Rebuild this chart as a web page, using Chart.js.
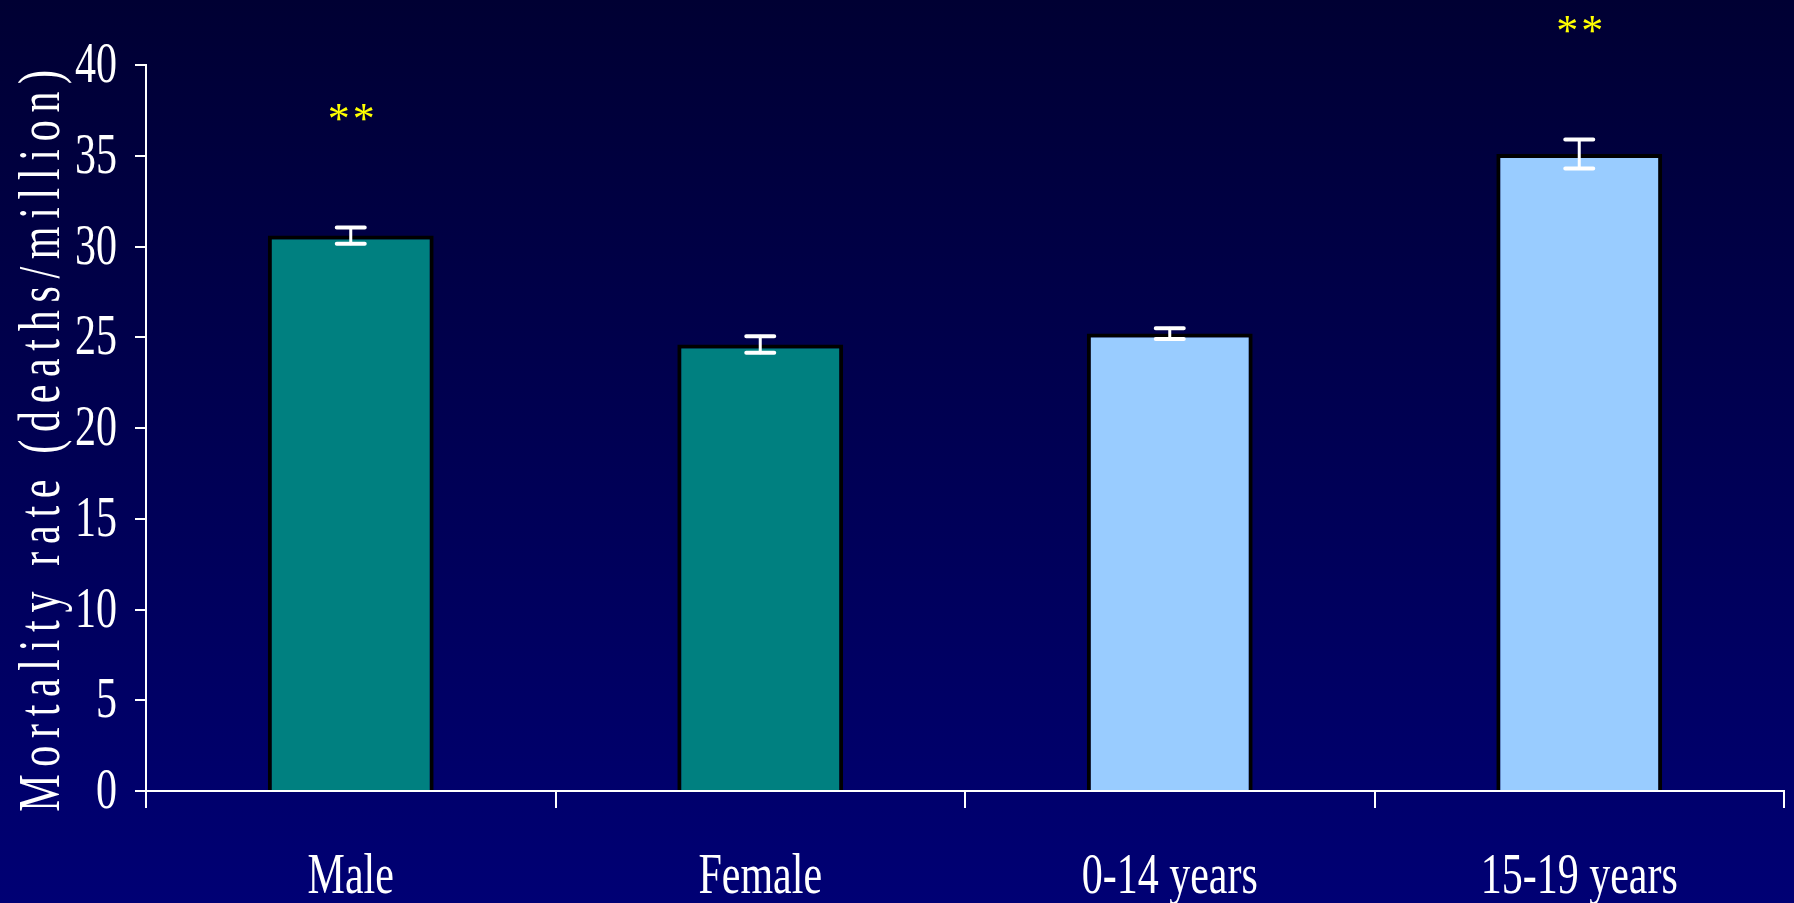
<!DOCTYPE html>
<html>
<head>
<meta charset="utf-8">
<script src="https://cdn.jsdelivr.net/npm/chart.js@4/dist/chart.umd.min.js"></script>
<style>
  html, body { margin: 0; padding: 0; background: #000050; }
  canvas { display: block; }
</style>
</head>
<body>
<canvas id="c" width="1794" height="903"></canvas>
<script>
// Mortality rate by sex and age group, with error margins
const categories = ['Male', 'Female', '0-14 years', '15-19 years'];
const mortalityRate = [30.6, 24.6, 25.2, 35.1];
const errorMargin = [0.45, 0.45, 0.3, 0.8];
const significance = ['**', '', '', '**'];
const barColors = ['#008080', '#008080', '#99CCFF', '#99CCFF'];
const yAxisTitle = 'Mortality rate (deaths/million)';
const yMin = 0, yMax = 40, yStep = 5;

const SERIF = '"Liberation Serif", "Times New Roman", serif';

// Draws text squeezed horizontally to mimic a narrow Times face
function narrowText(ctx, text, x, y, sx, align) {
  ctx.save();
  ctx.translate(x, y);
  ctx.scale(sx, 1);
  ctx.textAlign = align;
  ctx.textBaseline = 'alphabetic';
  ctx.fillText(text, 0, 0);
  ctx.restore();
}

const backdrop = {
  id: 'backdrop',
  beforeDraw(chart) {
    const { ctx, width, height } = chart;
    const g = ctx.createLinearGradient(0, 0, 0, height);
    g.addColorStop(0, '#000033');
    g.addColorStop(1, '#000074');
    ctx.save();
    ctx.fillStyle = g;
    ctx.fillRect(0, 0, width, height);
    ctx.restore();
  }
};

const errorBars = {
  id: 'errorBars',
  afterDatasetsDraw(chart) {
    const { ctx, scales: { y } } = chart;
    const meta = chart.getDatasetMeta(0);
    ctx.save();
    ctx.strokeStyle = '#ffffff';
    ctx.lineCap = 'round';
    meta.data.forEach((bar, i) => {
      const v = mortalityRate[i], e = errorMargin[i];
      const yTop = y.getPixelForValue(v + e);
      const yBot = y.getPixelForValue(v - e);
      const half = 14;
      ctx.lineWidth = 3;
      ctx.beginPath();
      ctx.moveTo(bar.x, yTop);
      ctx.lineTo(bar.x, yBot);
      ctx.stroke();
      ctx.lineWidth = 4;
      ctx.beginPath();
      ctx.moveTo(bar.x - half, yTop);
      ctx.lineTo(bar.x + half, yTop);
      ctx.moveTo(bar.x - half, yBot);
      ctx.lineTo(bar.x + half, yBot);
      ctx.stroke();

      if (significance[i]) {
        ctx.save();
        ctx.fillStyle = '#FFFF00';
        ctx.font = '44px ' + SERIF;
        ctx.letterSpacing = '3px';
        ctx.textAlign = 'center';
        ctx.textBaseline = 'middle';
        ctx.fillText(significance[i], bar.x + 2, yTop - 106);
        ctx.restore();
      }
    });
    ctx.restore();
  }
};

const axisText = {
  id: 'axisText',
  afterDraw(chart) {
    const { ctx, chartArea, scales: { x, y } } = chart;
    ctx.save();
    ctx.fillStyle = '#ffffff';
    ctx.font = '56px ' + SERIF;
    y.ticks.forEach((t, i) => {
      narrowText(ctx, String(t.value), chartArea.left - 29, y.getPixelForTick(i) + 17, 0.75, 'right');
    });
    x.ticks.forEach((t, i) => {
      narrowText(ctx, categories[i], x.getPixelForTick(i), chartArea.bottom + 102, 0.75, 'center');
    });

    // rotated y-axis title with wide letter spacing
    ctx.save();
    ctx.font = '60px ' + SERIF;
    ctx.translate(59, (chartArea.top + chartArea.bottom) / 2 + 9);
    ctx.rotate(-Math.PI / 2);
    ctx.scale(0.7, 1);
    ctx.letterSpacing = '11px';
    ctx.textAlign = 'center';
    ctx.textBaseline = 'alphabetic';
    ctx.fillText(yAxisTitle, 0, 0);
    ctx.restore();
    ctx.restore();
  }
};

new Chart(document.getElementById('c'), {
  type: 'bar',
  data: {
    labels: categories,
    datasets: [{
      data: mortalityRate,
      backgroundColor: barColors,
      borderColor: '#000000',
      borderWidth: 4,
      borderSkipped: 'start',
      categoryPercentage: 1,
      barPercentage: 0.405
    }]
  },
  options: {
    responsive: false,
    devicePixelRatio: 1,
    animation: false,
    layout: { padding: { top: 65, right: 10, left: 0, bottom: 0 } },
    plugins: { legend: { display: false }, tooltip: { enabled: false } },
    scales: {
      x: {
        z: 1,
        offset: true,
        ticks: { display: false },
        grid: {
          display: true, offset: true, drawOnChartArea: false, drawTicks: true,
          tickLength: 17, color: '#ffffff', lineWidth: 2
        },
        border: { display: true, color: '#ffffff', width: 2 },
        afterFit(scale) { scale.height = 112; }
      },
      y: {
        z: 1,
        min: yMin, max: yMax,
        ticks: { display: false, stepSize: yStep },
        grid: {
          display: true, drawOnChartArea: false, drawTicks: true,
          tickLength: 11, color: '#ffffff', lineWidth: 2
        },
        border: { display: true, color: '#ffffff', width: 2 },
        afterFit(scale) { scale.width = 146; }
      }
    }
  },
  plugins: [backdrop, errorBars, axisText]
});
</script>
</body>
</html>
